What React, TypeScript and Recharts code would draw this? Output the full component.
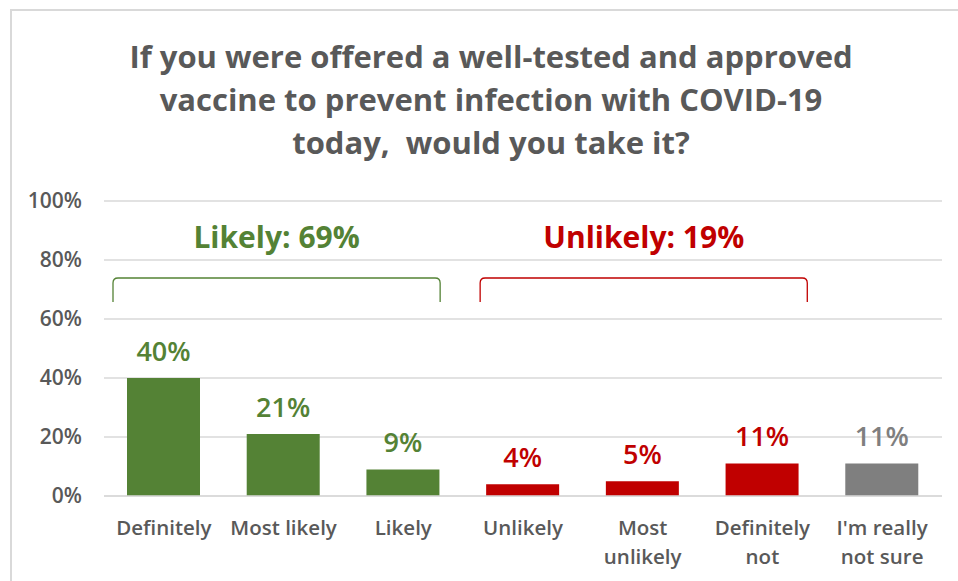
import React from 'react';
import { BarChart, Bar, XAxis, YAxis, CartesianGrid, Cell, LabelList, ReferenceArea } from 'recharts';

const titleLines = [
  'If you were offered a well-tested and approved',
  'vaccine to prevent infection with COVID-19',
  'today,\u00a0\u00a0would you take it?',
];
const categories = ['Definitely', 'Most likely', 'Likely', 'Unlikely', 'Most\nunlikely', 'Definitely\nnot', "I'm really\nnot sure"];
const values = [40, 21, 9, 4, 5, 11, 11];
const barColors = ['#548235', '#548235', '#548235', '#C00000', '#C00000', '#C00000', '#7F7F7F'];
const yTicks = [0, 20, 40, 60, 80, 100];
const groupLabels = ['Likely: 69%', 'Unlikely: 19%'];
const groupColors = ['#548235', '#C00000'];
const groupFirst = [categories[0], categories[3]];
const groupLast = [categories[2], categories[5]];
const groupBottom = [65.8, 65.8];
const groupTop = [73.9, 73.9];
// pixel insets of the brackets from the band edges [left, right]
const groupInset = [[9, 23], [17, 15]];

const FONT = '"Open Sans", sans-serif';
const GRAY = '#595959';

const data = categories.map((c, i) => ({ name: c, value: values[i] }));

const XTick = (props: any) => {
  const { x, y, payload } = props;
  const lines = String(payload.value).split('\n');
  return (
    <text x={x} y={y + 39} textAnchor="middle" fontSize={20.5} fontWeight={600} fill={GRAY} fontFamily={FONT}>
      {lines.map((l, i) => (
        <tspan key={i} x={x} dy={i === 0 ? 0 : 29}>{l}</tspan>
      ))}
    </text>
  );
};

const ValueLabel = (props: any) => {
  const { x, y, width, index, value } = props;
  return (
    <text x={x + width / 2} y={y - 28} textAnchor="middle" dominantBaseline="central" fontSize={27} fontWeight={600} fill={barColors[index]} fontFamily={FONT}>
      {value}%
    </text>
  );
};

const makeBracket = (gi: number) => (p: any) => {
  const x = p.x + groupInset[gi][0];
  const width = p.width - groupInset[gi][0] - groupInset[gi][1];
  const { y, height } = p;
  const r = 5;
  const d = `M ${x} ${y + height} L ${x} ${y + r} Q ${x} ${y} ${x + r} ${y} L ${x + width - r} ${y} Q ${x + width} ${y} ${x + width} ${y + r} L ${x + width} ${y + height}`;
  return (
    <g>
      <path d={d} fill="none" stroke={groupColors[gi]} strokeWidth={1.3} />
      <text x={x + width / 2} y={y - 41} textAnchor="middle" dominantBaseline="central" fontSize={30} fontWeight={700} fill={groupColors[gi]} fontFamily={FONT}>
        {groupLabels[gi]}
      </text>
    </g>
  );
};

export default function App() {
  return (
    <div style={{ position: 'absolute', left: 0, top: 0, width: 958, height: 581, background: '#fff', overflow: 'hidden' }}>
      <div style={{ position: 'absolute', left: 10, top: 9, width: 960, height: 600, borderTop: '2px solid #d9d9d9', borderLeft: '2px solid #d9d9d9' }} />
      <div style={{ position: 'absolute', left: 0, top: 35, width: 982, textAlign: 'center', fontFamily: FONT, fontWeight: 700, fontSize: 31, lineHeight: '43px', color: GRAY }}>
        {titleLines.map((t, i) => (
          <div key={i}>{t}</div>
        ))}
      </div>
      <div style={{ position: 'absolute', left: 0, top: 0 }}>
        <BarChart width={958} height={581} data={data} margin={{ top: 201, right: 16, bottom: 0, left: 24 }}>
          <CartesianGrid vertical={false} stroke="#d9d9d9" strokeWidth={1.5} />
          <XAxis dataKey="name" interval={0} tickLine={false} axisLine={{ stroke: '#d9d9d9', strokeWidth: 1.5 }} tickSize={0} tickMargin={0} height={85} tick={<XTick />} />
          <YAxis domain={[0, 100]} ticks={yTicks} tickFormatter={(v: number) => `${v}%`} axisLine={false} tickLine={false} width={80} tickSize={0} tickMargin={22} tick={{ fontSize: 21, fontWeight: 600, fill: GRAY, fontFamily: FONT }} />
          <Bar dataKey="value" barSize={73} isAnimationActive={false}>
            {data.map((d, i) => (
              <Cell key={i} fill={barColors[i]} />
            ))}
            <LabelList dataKey="value" content={<ValueLabel />} />
          </Bar>
          {groupLabels.map((g, i) => (
            <ReferenceArea key={g} x1={groupFirst[i]} x2={groupLast[i]} y1={groupBottom[i]} y2={groupTop[i]} shape={makeBracket(i)} ifOverflow="visible" />
          ))}
        </BarChart>
      </div>
    </div>
  );
}
